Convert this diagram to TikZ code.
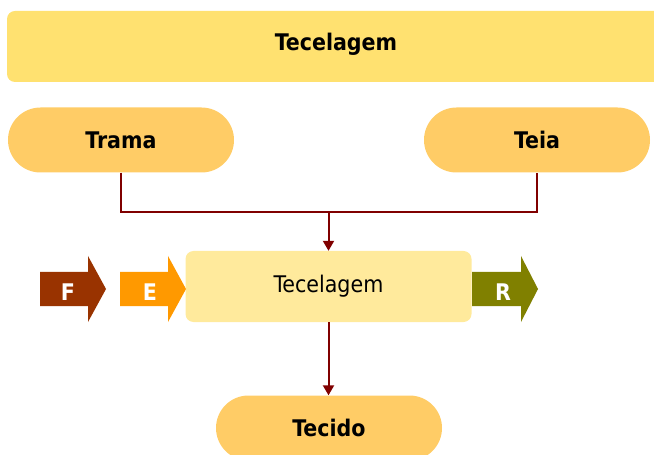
\documentclass[tikz,border=0pt]{standalone}
\usepackage{fontspec}
\setmainfont{DejaVu Sans Condensed}
\usetikzlibrary{arrows.meta}
\definecolor{barfill}{HTML}{FFE170}
\definecolor{pillfill}{HTML}{FFCC66}
\definecolor{boxfill}{HTML}{FFEA9C}
\definecolor{linkred}{HTML}{800000}
\definecolor{arrF}{HTML}{993300}
\definecolor{arrE}{HTML}{FF9900}
\definecolor{arrR}{HTML}{808000}
\tikzset{
  boldtext/.style={font=\bfseries\fontsize{23}{27}\selectfont},
  pill/.style={fill=pillfill, rounded corners=32.5bp, minimum width=226bp, minimum height=65bp, inner sep=0pt, boldtext},
  link/.style={draw=linkred, line width=2bp},
  tip/.style={-{Triangle[length=10bp,width=11bp]}},
  arrowlabel/.style={text=white, boldtext},
}
\begin{document}
\begin{tikzpicture}[x=1bp,y=-1bp]
\useasboundingbox (0,0) rectangle (654,455);
\begin{scope}
\clip (0,0) rectangle (654,455);
% header bar
\fill[barfill, rounded corners=8bp] (7,11) rectangle (680,82);
\node[boldtext] (head) at (336,44) {Tecelagem};
% inputs and output
\node[pill] (trama) at (121,140) {Trama};
\node[pill] (teia) at (537,140) {Teia};
\node[pill] (tecido) at (329,428) {Tecido};
% process box
\node[fill=boxfill, rounded corners=8bp, minimum width=286bp, minimum height=71bp, inner sep=0pt, font=\fontsize{23}{27}\selectfont] (proc) at (328.5,286.5) {Tecelagem};
% side arrows
\fill[arrF] (40,272) -- (88,272) -- (88,256) -- (106,289) -- (88,322) -- (88,306) -- (40,306) -- cycle;
\node[arrowlabel] (f) at (68,292) {F};
\fill[arrE] (120,272) -- (168,272) -- (168,256) -- (186,289) -- (168,322) -- (168,306) -- (120,306) -- cycle;
\node[arrowlabel] (e) at (150,292) {E};
\fill[arrR] (472,272) -- (521,272) -- (521,256) -- (538,289) -- (521,322) -- (521,306) -- (472,306) -- cycle;
\node[arrowlabel] (r) at (503,292) {R};
% connectors
\coordinate (join) at (328.5,212);
\draw[link] (trama.south) |- (join) -| (teia.south);
\draw[link, tip] (join) -- (proc.north);
\draw[link, tip] (proc.south) -- (proc.south |- tecido.north);
\end{scope}
\end{tikzpicture}
\end{document}
